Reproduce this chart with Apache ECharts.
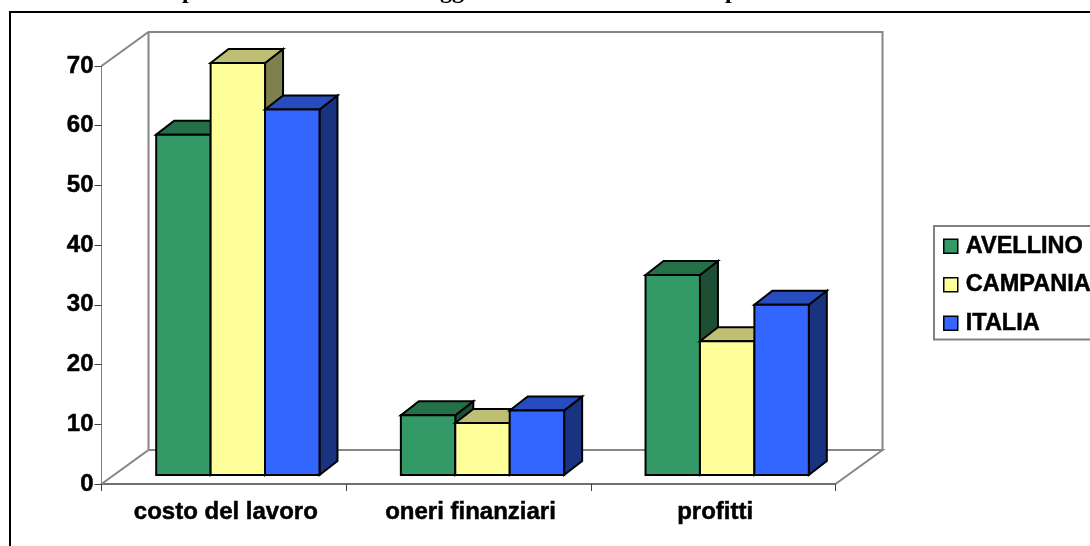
<!DOCTYPE html>
<html>
<head>
<meta charset="utf-8">
<style>html,body{margin:0;padding:0;background:#fff}#c{width:1090px;height:546px}</style>
<script src="https://cdn.jsdelivr.net/npm/echarts@6/dist/echarts.min.js"></script>
</head>
<body>
<div id="c"></div>
<script>
const categories = ['costo del lavoro', 'oneri finanziari', 'profitti'];
const avellino = [57, 10, 33.5];
const campania = [69, 8.7, 22.4];
const italia = [61.2, 10.8, 28.5];
const yTicks = [0, 70, 10];
const seriesNames = ['AVELLINO', 'CAMPANIA', 'ITALIA'];
const faceColors = ['#339966', '#FFFF99', '#3366FF'];
const topColors = ['#247049', '#BFBF73', '#264CBF'];
const sideColors = ['#1C4F33', '#80804D', '#193380'];

const FONT = '"Liberation Sans", Arial, sans-serif';
const WALL_DX = 47, WALL_DY = 34;     // depth of the whole chart box
const BAR_DX = 18, BAR_DY = 14;       // depth of one bar
const PLANE_DX = 14, PLANE_DY = 9;    // bars stand this far inside the box
const BAR_FRAC = 54.5 / 245;

const labelFont = {
  color: '#000', fontFamily: FONT, fontSize: 24, fontWeight: 'bold',
  textBorderColor: '#000', textBorderWidth: 0.5
};

function barSeries(i, values) {
  return {
    type: 'custom',
    name: seriesNames[i],
    coordinateSystem: 'cartesian2d',
    itemStyle: { color: faceColors[i] },
    data: values.map((v, c) => [c, v]),
    encode: { x: 0, y: 1 },
    z: 5 + i,
    silent: true,
    renderItem(params, api) {
      const w = api.size([1, 0])[0] * BAR_FRAC;
      const top = api.coord([api.value(0), api.value(1)]);
      const base = api.coord([api.value(0), 0]);
      const x0 = top[0] + PLANE_DX + (i - 1.5) * w;
      const x1 = x0 + w;
      const y0 = top[1] - PLANE_DY;
      const y1 = base[1] - PLANE_DY;
      const line = { stroke: '#000', lineWidth: 2, lineJoin: 'miter' };
      const poly = (pts, fill) => ({
        type: 'polygon', shape: { points: pts },
        style: Object.assign({ fill }, line)
      });
      return {
        type: 'group',
        children: [
          poly([[x1, y0], [x1 + BAR_DX, y0 - BAR_DY], [x1 + BAR_DX, y1 - BAR_DY], [x1, y1]], sideColors[i]),
          poly([[x0, y0], [x0 + BAR_DX, y0 - BAR_DY], [x1 + BAR_DX, y0 - BAR_DY], [x1, y0]], topColors[i]),
          poly([[x0, y0], [x1, y0], [x1, y1], [x0, y1]], faceColors[i])
        ]
      };
    }
  };
}

const wallSeries = {
  type: 'custom',
  coordinateSystem: 'cartesian2d',
  data: [[0, 0]],
  z: 1,
  silent: true,
  renderItem(params) {
    const r = params.coordSys;
    const L = r.x, T = r.y, R = r.x + r.width, B = r.y + r.height;
    const s = { stroke: '#868686', lineWidth: 2, fill: null };
    return {
      type: 'polyline',
      shape: { points: [
        [L, T], [L + WALL_DX, T - WALL_DY], [R + WALL_DX, T - WALL_DY],
        [R + WALL_DX, B - WALL_DY], [L + WALL_DX, B - WALL_DY], [L + WALL_DX, T - WALL_DY],
        [L + WALL_DX, B - WALL_DY], [L, B], [L + WALL_DX, B - WALL_DY],
        [R + WALL_DX, B - WALL_DY], [R, B]
      ] },
      style: s
    };
  }
};

const chart = echarts.init(document.getElementById('c'), null, { renderer: 'canvas' });
chart.setOption({
  animation: false,
  backgroundColor: '#fff',
  textStyle: { fontFamily: FONT },
  grid: { left: 101.5, width: 734, top: 66, height: 418, containLabel: false },
  xAxis: {
    type: 'category',
    data: categories,
    axisLine: { lineStyle: { color: '#707070', width: 2 } },
    axisTick: { show: true, length: 7, lineStyle: { color: '#404040', width: 1 } },
    axisLabel: Object.assign({ margin: 16, padding: [0, 0, 0, 4] }, labelFont),
    splitLine: { show: false }
  },
  yAxis: {
    type: 'value',
    min: yTicks[0], max: yTicks[1], interval: yTicks[2],
    axisLine: { show: true, lineStyle: { color: '#808080', width: 1 } },
    axisTick: { show: true, length: 7, lineStyle: { color: '#404040', width: 1 } },
    axisLabel: Object.assign({ margin: 8, padding: [3, 0, 0, 0] }, labelFont),
    splitLine: { show: false }
  },
  legend: {
    left: 934, top: 226,
    orient: 'vertical',
    icon: 'rect',
    itemWidth: 14, itemHeight: 14, itemGap: 14,
    padding: [8, 20, 4, 9],
    borderColor: '#808080', borderWidth: 2, backgroundColor: '#fff',
    textStyle: Object.assign({}, labelFont, { fontSize: 23.5, padding: [0, 0, 0, 3] }),
    data: seriesNames.map((n, i) => ({
      name: n,
      itemStyle: { color: faceColors[i], borderColor: '#000', borderWidth: 1.5 }
    })),
    selectedMode: false
  },
  graphic: [
    { type: 'line', shape: { x1: 10, y1: 12, x2: 1090, y2: 12 }, style: { stroke: '#000', lineWidth: 2 }, silent: true },
    { type: 'line', shape: { x1: 10, y1: 11, x2: 10, y2: 546 }, style: { stroke: '#000', lineWidth: 2 }, silent: true },
    { type: 'text', x: 182, y: 4, style: { text: 'p', font: 'bold 24px "Liberation Serif"', fill: '#000', verticalAlign: 'bottom' }, silent: true },
    { type: 'text', x: 440, y: 4, style: { text: 'gg', font: 'bold 24px "Liberation Serif"', fill: '#000', verticalAlign: 'bottom' }, silent: true },
    { type: 'text', x: 725, y: 4, style: { text: 'p', font: 'bold 24px "Liberation Serif"', fill: '#000', verticalAlign: 'bottom' }, silent: true }
  ],
  series: [wallSeries, barSeries(0, avellino), barSeries(1, campania), barSeries(2, italia)]
});
</script>
</body>
</html>
